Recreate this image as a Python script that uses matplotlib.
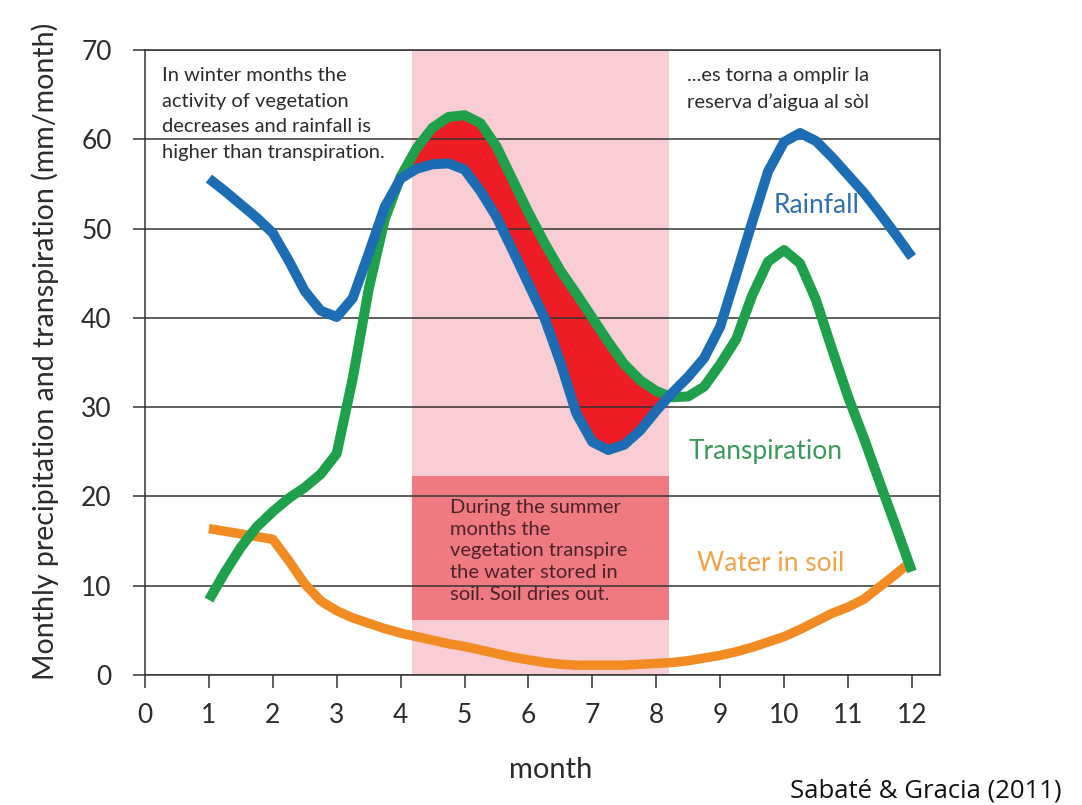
import matplotlib
matplotlib.use('Agg')
import matplotlib.pyplot as plt

# monthly values (mm/month)
months = [1, 1.25, 1.5, 1.75, 2, 2.25, 2.5, 2.75, 3, 3.25, 3.5, 3.75, 4, 4.25, 4.5, 4.75, 5, 5.25, 5.5, 5.75,
          6, 6.25, 6.5, 6.75, 7, 7.25, 7.5, 7.75, 8, 8.25, 8.5, 8.75, 9, 9.25, 9.5, 9.75,
          10, 10.25, 10.5, 10.75, 11, 11.25, 11.5, 11.75, 12]
rainfall = [55.6, 54.2, 52.7, 51.2, 49.5, 46.4, 43.0, 40.8, 40.1, 42.2, 47.2, 52.4, 55.6, 56.7, 57.2, 57.3,
            56.6, 54.2, 51.3, 47.6, 43.8, 40.0, 35.0, 29.3, 26.1, 25.2, 25.8, 27.4, 29.6, 31.6, 33.4, 35.5,
            39.0, 44.8, 50.7, 56.4, 59.7, 60.7, 59.8, 58.0, 56.0, 54.0, 51.7, 49.3, 46.8]
transpiration = [8.4, 11.5, 14.3, 16.6, 18.3, 19.8, 21.0, 22.5, 24.8, 33.2, 43.2, 51.0, 55.8, 59.0, 61.3, 62.5,
                 62.7, 61.8, 59.2, 55.5, 51.8, 48.4, 45.3, 42.7, 40.0, 37.3, 34.8, 33.0, 31.8, 31.1, 31.2, 32.3,
                 34.8, 37.6, 42.5, 46.3, 47.6, 46.1, 42.0, 36.5, 31.2, 26.5, 21.5, 16.6, 11.6]
water_in_soil = [16.4, 16.1, 15.8, 15.5, 15.2, 12.8, 10.2, 8.3, 7.2, 6.4, 5.8, 5.2, 4.7, 4.3, 3.9, 3.5,
                 3.2, 2.8, 2.4, 2.0, 1.7, 1.4, 1.2, 1.1, 1.1, 1.1, 1.1, 1.2, 1.3, 1.4, 1.6, 1.9,
                 2.2, 2.6, 3.1, 3.7, 4.3, 5.1, 6.0, 6.9, 7.6, 8.5, 9.9, 11.3, 12.8]

xticks = list(range(0, 13))
yticks = list(range(0, 71, 10))

summer = (4.18, 8.2)          # dry season band
deficit_box = (6.2, 22.3)     # y-range of the red note box

FONT = ['Lato', 'DejaVu Sans']
plt.rcParams['font.family'] = FONT
TXT = '#2b2b2b'

fig = plt.figure(figsize=(10.82, 8.05), dpi=100)
ax = fig.add_axes([145 / 1082, 130 / 805, 795 / 1082, 625 / 805])

ax.axvspan(summer[0], summer[1], color='#f8cdd3', zorder=0, lw=0)
ax.fill_between(summer, deficit_box[0], deficit_box[1], color='#f07a82', lw=0, zorder=1)

ax.fill_between(months, rainfall, transpiration,
                where=[t > r for t, r in zip(transpiration, rainfall)],
                interpolate=True, color='#ee1c25', lw=0, zorder=1.5)

ax.plot(months, water_in_soil, color='#f28c22', lw=6.8, zorder=3,
        solid_joinstyle='round', solid_capstyle='butt')
ax.plot(months, transpiration, color='#1fa04a', lw=7.2, zorder=4,
        solid_joinstyle='round', solid_capstyle='butt')
ax.plot(months, rainfall, color='#1c6db4', lw=7.2, zorder=5,
        solid_joinstyle='round', solid_capstyle='butt')

ax.set_xlim(0, 12.44)
ax.set_ylim(0, 70)
ax.set_xticks(xticks)
ax.set_yticks(yticks)
ax.set_xticklabels([str(t) for t in xticks])
ax.set_yticklabels([str(t) for t in yticks])
ax.tick_params(axis='both', direction='out', length=9, width=1.1, colors='#333333',
               labelsize=19, labelcolor=TXT)
ax.tick_params(axis='x', pad=11)
ax.tick_params(axis='y', pad=15)

ax.yaxis.grid(True, color='#333333', lw=1.1)
ax.set_axisbelow(False)
for sp in ax.spines.values():
    sp.set_color('#333333')
    sp.set_linewidth(1.1)

# annotations
ax.text(0.27, 68.1, 'In winter months the\nactivity of vegetation\ndecreases and rainfall is\nhigher than transpiration.',
        ha='left', va='top', fontsize=14.5, color=TXT, linespacing=1.62, zorder=6)
ax.text(8.48, 68.1, '...es torna a omplir la\nreserva d\u2019aigua al s\u00f2l',
        ha='left', va='top', fontsize=14.5, color=TXT, linespacing=1.62, zorder=6)
ax.text(4.77, 19.7, 'During the summer\nmonths the\nvegetation transpire\nthe water stored in\nsoil. Soil dries out.',
        ha='left', va='top', fontsize=14.5, color='#4a2326', linespacing=1.33, zorder=6)

ax.text(9.83, 52.6, 'Rainfall', ha='left', va='center', fontsize=19, color='#2f6fb3', zorder=6)
ax.text(8.5, 25.0, 'Transpiration', ha='left', va='center', fontsize=19, color='#3a9a5a', zorder=6)
ax.text(8.64, 12.5, 'Water in soil', ha='left', va='center', fontsize=19, color='#f2a347', zorder=6)

fig.text(0.042, 0.563, 'Monthly precipitation and transpiration (mm/month)',
         rotation=90, ha='center', va='center', fontsize=20.5, color=TXT)
fig.text(0.509, 0.044, 'month', ha='center', va='center', fontsize=21, color=TXT)
fig.text(0.9815, 0.018, 'Sabat\u00e9 & Gracia (2011)', ha='right', va='center',
         fontsize=18.5, color='#111111', family=['Open Sans', 'DejaVu Sans'])

fig.savefig('out.png', dpi=100)
